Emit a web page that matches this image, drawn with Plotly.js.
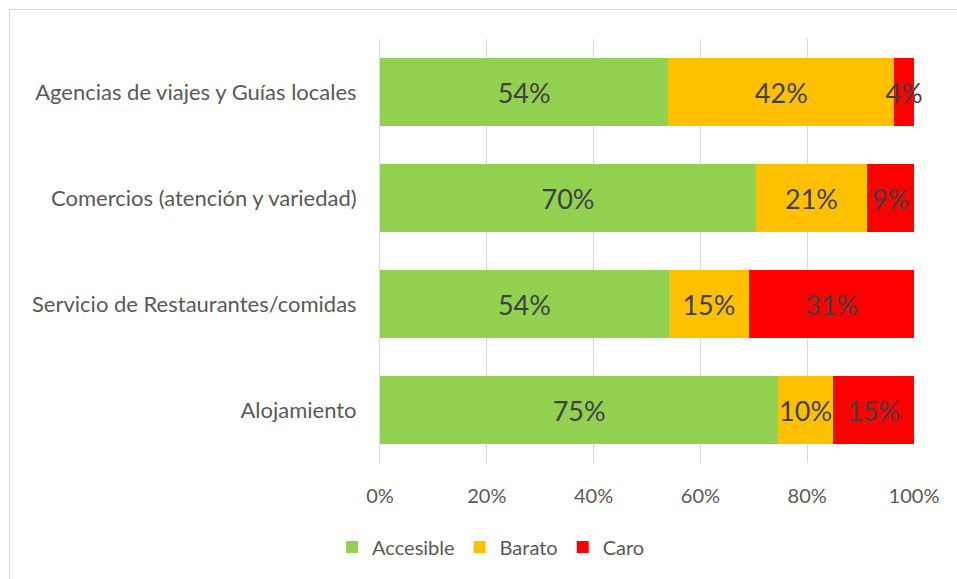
<!DOCTYPE html>
<html>
<head>
<meta charset="utf-8">
<script src="https://cdn.plot.ly/plotly-3.0.1.min.js"></script>
<style>
  html, body { margin: 0; padding: 0; background: #fff; }
  #wrap { position: relative; width: 957px; height: 579px; overflow: hidden; }
  #chart { position: absolute; left: 0; top: 0; width: 957px; height: 579px; }
  #frame { position: absolute; left: 9px; top: 9px; width: 1000px; height: 700px;
           border-left: 1px solid #d9d9d9; border-top: 1px solid #d9d9d9; pointer-events: none; }
</style>
</head>
<body>
<div id="wrap">
  <div id="chart"></div>
  <div id="frame"></div>
</div>
<script>
const categories = [
  "Agencias de viajes y Guías locales",
  "Comercios (atención y variedad)",
  "Servicio de Restaurantes/comidas",
  "Alojamiento"
];
const accesible = [54.0, 70.4, 54.1, 74.6];
const barato    = [42.3, 20.8, 15.0, 10.2];
const caro      = [3.7, 8.8, 30.9, 15.2];
const seriesNames = ["Accesible", "Barato", "Caro"];
const seriesColors = ["#92d050", "#ffc000", "#ff0000"];
const xTickVals = [0, 20, 40, 60, 80, 100];
const xTickText = ["0%", "20%", "40%", "60%", "80%", "100%"];

const FONT = "Lato, 'Open Sans', sans-serif";
const seriesValues = [accesible, barato, caro];

const traces = seriesValues.map((vals, i) => ({
  type: "bar",
  orientation: "h",
  name: seriesNames[i],
  y: categories,
  x: vals,
  marker: { color: seriesColors[i], line: { width: 0 } },
  texttemplate: "%{x:.0f}%",
  textposition: "inside",
  insidetextanchor: "middle",
  textangle: 0,
  constraintext: "none",
  cliponaxis: false,
  textfont: { family: FONT, size: 27, color: "#404040" },
  hoverinfo: "skip"
}));

const layout = {
  width: 957,
  height: 579,
  margin: { l: 380, r: 43, t: 39, b: 116 },
  paper_bgcolor: "#ffffff",
  plot_bgcolor: "#ffffff",
  barmode: "stack",
  bargap: 0.35,
  showlegend: true,
  font: { family: FONT, color: "#595959" },
  xaxis: {
    range: [0, 100],
    tickvals: xTickVals,
    ticktext: xTickText,
    showgrid: true,
    gridcolor: "#d9d9d9",
    gridwidth: 1,
    zeroline: false,
    showline: false,
    ticks: "",
    ticklabelstandoff: 19,
    tickfont: { family: FONT, size: 20, color: "#595959" },
    fixedrange: true
  },
  yaxis: {
    autorange: "reversed",
    type: "category",
    showgrid: false,
    zeroline: false,
    showline: true,
    linecolor: "#d9d9d9",
    linewidth: 1,
    ticks: "",
    ticklabelstandoff: 18,
    tickfont: { family: FONT, size: 22, color: "#595959" },
    fixedrange: true
  },
  legend: {
    orientation: "h",
    x: 0.208,
    xanchor: "center",
    y: -0.198,
    yanchor: "middle",
    font: { family: FONT, size: 20, color: "#595959" },
    traceorder: "normal",
    itemwidth: 30,
    bgcolor: "rgba(0,0,0,0)"
  }
};

Plotly.newPlot("chart", traces, layout, { displayModeBar: false, staticPlot: true });
</script>
</body>
</html>
